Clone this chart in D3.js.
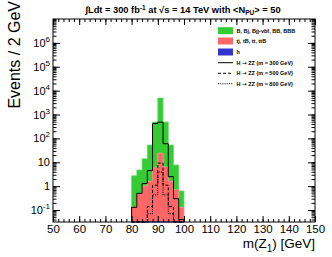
<!DOCTYPE html>
<html>
<head>
<meta charset="utf-8">
<script src="https://cdn.jsdelivr.net/npm/d3@7"></script>
<style>
body { margin: 0; background: #fff; }
text { font-family: "Liberation Sans", Arial, Helvetica, sans-serif; }
</style>
</head>
<body>
<div id="container"></div>
<script>
// bins of 2 GeV, low edges
const binLow = [80, 82, 84, 86, 88, 90, 92, 94, 96, 98];
const binWidth = 2;
// stacked backgrounds
const bkgB  = [2.6, 4.3, 13, 51, 480, 4900, 480, 51, 7, 0.5];
const bkgTop = [0.13, 0.47, 1.0, 1.6, 5.8, 24, 6.3, 1.6, 0.7, 0.13];
const bkgH  = [0, 0, 0, 0, 0, 0, 0, 0, 0, 0];
// signal overlays
const sig300 = [0.13, 0.5, 1.3, 4.5, 420, 480, 60, 2.5, 0.3, 0.04];
const sig500 = [0, 0, 0, 0.14, 1.1, 9.3, 1.1, 0.14, 0, 0];
const sig800 = [0, 0, 0, 0.07, 0.43, 3.9, 0.43, 0.07, 0, 0];

const xTicks = [50, 60, 70, 80, 90, 100, 110, 120, 130, 140, 150];
const yTickExp = [-1, 0, 1, 2, 3, 4, 5, 6];

const legendLabels = ["B, Bj, Bjj-vbf, BB, BBB", "tj, tB, tt, ttB", "h",
    "H \u2192 ZZ (m = 300 GeV)", "H \u2192 ZZ (m = 500 GeV)", "H \u2192 ZZ (m = 800 GeV)"];

let W = 332, H = 257;
let padL = 53, padR = 315, padT = 19, padB = 222;

let svg = d3.select('#container')
    .append('svg')
    .attr('width', W)
    .attr('height', H);

let x = d3.scaleLinear().domain([50, 150]).range([padL, padR]);
let yMin = Math.pow(10, -1.5);
let y = d3.scaleLog().domain([yMin, 1e7]).range([padB, padT]).clamp(true);
let yv = v => y(Math.max(v, yMin));

// stack
let rows = binLow.map((b, i) => ({b: b, h: bkgH[i], t: bkgTop[i], B: bkgB[i]}));
let stack = d3.stack().keys(['h', 't', 'B'])(rows);
let colors = {h: '#3333cc', t: '#ff6666', B: '#33cc33'};
let edge = {h: '#6666dd', t: '#ff8c8c', B: '#6cd96c'};

function stepPts(vals0, vals1) {
    let pts = [];
    binLow.forEach((b, i) => {
        pts.push({x: b, y0: vals0[i], y1: vals1[i]});
        pts.push({x: b + binWidth, y0: vals0[i], y1: vals1[i]});
    });
    return pts;
}

let area = d3.area()
    .x(d => x(d.x))
    .y0(d => yv(d.y0))
    .y1(d => yv(d.y1));

// draw top layer first so lower layers sit on it
stack.slice().reverse().forEach(layer => {
    let k = layer.key;
    let pts = stepPts(layer.map(d => d[0]), layer.map(d => d[1]));
    svg.append('path')
        .attr('d', area(pts))
        .attr('fill', colors[k])
        .attr('stroke', edge[k])
        .attr('stroke-width', 0.8);
});

// signal outlines
let line = d3.line().x(d => x(d[0])).y(d => yv(d[1]));
function sigPath(vals) {
    let pts = [[binLow[0], 0]];
    binLow.forEach((b, i) => {
        pts.push([b, vals[i]]);
        pts.push([b + binWidth, vals[i]]);
    });
    pts.push([binLow[binLow.length - 1] + binWidth, 0]);
    return line(pts);
}
let sigs = [[sig300, null], [sig500, '3,2'], [sig800, '1,1.2']];
sigs.forEach(s => {
    svg.append('path')
        .attr('d', sigPath(s[0]))
        .attr('fill', 'none')
        .attr('stroke', '#000')
        .attr('stroke-width', 1)
        .attr('stroke-dasharray', s[1]);
});

// frame
svg.append('rect')
    .attr('x', padL).attr('y', padT)
    .attr('width', padR - padL).attr('height', padB - padT)
    .attr('fill', 'none').attr('stroke', '#000').attr('stroke-width', 1);

// x axis ticks
let xMinor = d3.range(50, 151, 2);
function xAxisG(axis, ty) {
    let g = svg.append('g').attr('transform', `translate(0,${ty})`).call(axis);
    g.select('.domain').remove();
    g.selectAll('line').attr('stroke', '#000');
    return g;
}
xAxisG(d3.axisTop(x).tickValues(xMinor).tickSize(3).tickFormat(''), padB);
xAxisG(d3.axisTop(x).tickValues(xTicks).tickSize(6).tickFormat(''), padB);
xAxisG(d3.axisBottom(x).tickValues(xMinor).tickSize(3).tickFormat(''), padT);
xAxisG(d3.axisBottom(x).tickValues(xTicks).tickSize(6).tickFormat(''), padT);
let xl = xAxisG(d3.axisBottom(x).tickValues(xTicks).tickSize(0).tickPadding(2.5).tickFormat(d3.format('d')), padB);
xl.selectAll('text').attr('font-size', 11.5).attr('fill', '#000')
    .style('font-family', '"Liberation Sans", Arial, sans-serif');

// y axis ticks
let yMinor = y.ticks().filter(v => v >= yMin);
let yMajor = yTickExp.map(e => Math.pow(10, e));
function yAxisG(axis, tx) {
    let g = svg.append('g').attr('transform', `translate(${tx},0)`).call(axis);
    g.select('.domain').remove();
    g.selectAll('line').attr('stroke', '#000');
    return g;
}
yAxisG(d3.axisRight(y).tickValues(yMinor).tickSize(3.5).tickFormat(''), padL);
yAxisG(d3.axisRight(y).tickValues(yMajor).tickSize(7).tickFormat(''), padL);
yAxisG(d3.axisLeft(y).tickValues(yMinor).tickSize(3.5).tickFormat(''), padR);
yAxisG(d3.axisLeft(y).tickValues(yMajor).tickSize(7).tickFormat(''), padR);
let yl = yAxisG(d3.axisLeft(y).tickValues(yMajor).tickSize(0).tickPadding(3).tickFormat(''), padL);
yl.selectAll('.tick text').each(function(d) {
    let e = Math.round(Math.log10(d));
    let t = d3.select(this).attr('font-size', 11).attr('fill', '#000')
        .style('font-family', '"Liberation Sans", Arial, sans-serif');
    t.text(null);
    if (e === 0) t.text('1');
    else if (e === 1) t.text('10');
    else {
        t.append('tspan').text('10');
        t.append('tspan').attr('dy', -5).attr('font-size', 8).text(e);
    }
});

// axis titles
svg.append('text')
    .attr('x', padR).attr('y', 248)
    .attr('text-anchor', 'end').attr('font-size', 13.5)
    .html('m(Z<tspan dy="4" font-size="10">1</tspan><tspan dy="-4">) [GeV]</tspan>');
svg.append('text')
    .attr('transform', 'translate(20,1) rotate(-90)')
    .attr('text-anchor', 'end').attr('font-size', 16)
    .text('Events / 2 GeV');

// header
svg.append('text')
    .attr('x', 183).attr('y', 13)
    .attr('text-anchor', 'middle').attr('font-size', 9.3).attr('font-weight', 'bold')
    .html('\u222BLdt = 300 fb<tspan dy="-3" font-size="6.5">-1</tspan><tspan dy="3"> at \u221As = 14 TeV with &lt;N</tspan><tspan dy="2" font-size="6.5">PU</tspan><tspan dy="-2">&gt; = 50</tspan>');

// legend
let lx = 218, lw = 15, rowY = [30.7, 41, 52, 62.7, 73.3, 83.7];
let legFill = [colors.B, colors.t, colors.h];
legendLabels.forEach((lab, i) => {
    if (i < 3) {
        svg.append('rect')
            .attr('x', lx).attr('y', rowY[i] - 3.5)
            .attr('width', lw).attr('height', 7)
            .attr('fill', legFill[i]);
    } else {
        svg.append('line')
            .attr('x1', lx).attr('x2', lx + lw)
            .attr('y1', rowY[i]).attr('y2', rowY[i])
            .attr('stroke', '#000').attr('stroke-width', 1)
            .attr('stroke-dasharray', sigs[i - 3][1]);
    }
    let t = svg.append('text')
        .attr('x', lx + lw + 3.5).attr('y', rowY[i] + 2)
        .attr('font-size', 5.5).attr('font-weight', 'bold');
    lab.split('\u2192').forEach((part, j) => {
        if (j > 0) t.append('tspan').style('font-family', '"DejaVu Sans"').text('\u2192');
        t.append('tspan').text(part);
    });
});
</script>
</body>
</html>
